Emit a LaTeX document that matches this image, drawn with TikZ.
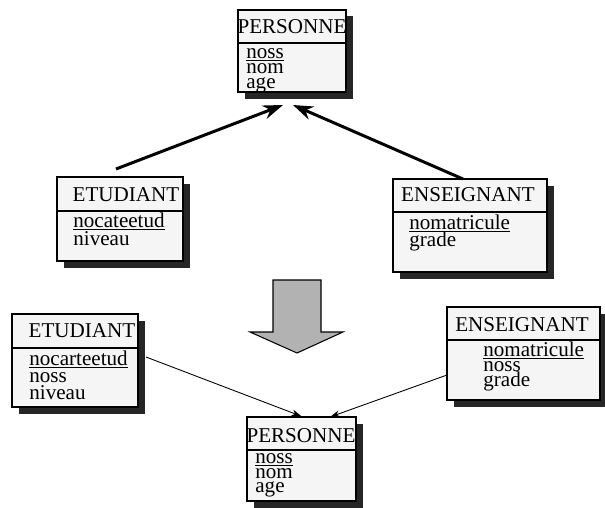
\documentclass[tikz,border=0pt]{standalone}
\usepackage{fontspec}
\setmainfont{Liberation Serif}
\usetikzlibrary{arrows.meta,shadows,fit}
\lineskiplimit=-20pt
% key attribute, underlined close to the baseline
\newcommand{\keyattr}[1]{\setbox0\hbox{#1}\rlap{\rule[-1.2pt]{\wd0}{0.5pt}}\box0}

\tikzset{
    classbox/.style={draw, line width=0.8pt, fill=black!4, inner sep=0pt,
        drop shadow={shadow xshift=0.14cm, shadow yshift=-0.13cm, fill=black!85, opacity=1}},
    classname/.style={inner sep=0pt, font=\fontsize{12}{9}\selectfont},
    attrlist/.style={inner sep=0pt, anchor=north west, align=left, font=\fontsize{12}{#1}\selectfont},
    attrlist/.default=9.5pt,
    bigarrow/.style={line width=1.7pt, -{Stealth[length=0.4cm,width=0.28cm]}},
    thinarrow/.style={line width=0.5pt, -{Stealth[length=0.2cm,width=0.13cm]}},
}

\begin{document}
\begin{tikzpicture}[x=0.02cm, y=-0.02cm]
    \useasboundingbox (0,0) rectangle (605,507);

    % PERSONNE, top
    \node[classbox, fit={(238,10) (346,92)}] (p1) {};
    \draw[line width=0.8pt] (p1.west |- 0,43) -- (p1.east |- 0,43);
    \node[classname] (p1name) at (292,27) {PERSONNE};
    \node[attrlist=8.4pt] (p1attr) at (246,48.5) {\keyattr{noss}\\nom\\age};

    % ETUDIANT, top left
    \node[classbox, fit={(57,177) (183,261)}] (e1) {};
    \draw[line width=0.8pt] (e1.west |- 0,211) -- (e1.east |- 0,211);
    \node[classname] (e1name) at (126,195) {ETUDIANT};
    \node[attrlist=10pt] (e1attr) at (73,213) {\keyattr{nocateetud}\\niveau};

    % ENSEIGNANT, top right
    \node[classbox, fit={(393,179) (547,272)}] (s1) {};
    \draw[line width=0.8pt] (s1.west |- 0,212) -- (s1.east |- 0,212);
    \node[classname] (s1name) at (468,195) {ENSEIGNANT};
    \node[attrlist=9.2pt] (s1attr) at (409,215) {\keyattr{nomatricule}\\grade};

    % generalisation arrows
    \coordinate (e1out) at (116,169);
    \coordinate (p1in1) at (283,105);
    \coordinate (s1out) at (463,179);
    \coordinate (p1in2) at (293,105);
    \draw[bigarrow] (e1out) -- (p1in1);
    \draw[bigarrow] (s1out) -- (p1in2);

    % big arrow in the middle
    \draw[fill=black!30, line width=0.6pt] (273,280) -- (321,280) -- (321,332) -- (343,332)
        -- (297,353) -- (250,332) -- (273,332) -- cycle;

    % ETUDIANT, bottom left
    \node[classbox, fit={(12,314) (138,407)}] (e2) {};
    \draw[line width=0.8pt] (e2.west |- 0,348) -- (e2.east |- 0,348);
    \node[classname] (e2name) at (82,331) {ETUDIANT};
    \node[attrlist=9.6pt] (e2attr) at (29,351) {\keyattr{nocarteetud}\\noss\\niveau};

    % ENSEIGNANT, bottom right
    \node[classbox, fit={(447,307) (600,400)}] (s2) {};
    \draw[line width=0.8pt] (s2.west |- 0,340) -- (s2.east |- 0,340);
    \node[classname] (s2name) at (522,325) {ENSEIGNANT};
    \node[attrlist=8.4pt] (s2attr) at (483,342) {\keyattr{nomatricule}\\noss\\grade};

    % PERSONNE, bottom
    \node[classbox, fit={(247,417) (356,501)}] (p2) {};
    \draw[line width=0.8pt] (p2.west |- 0,450) -- (p2.east |- 0,450);
    \node[classname] (p2name) at (301,436) {PERSONNE};
    \node[attrlist=8.4pt] (p2attr) at (255,453) {\keyattr{noss}\\nom\\age};

    % references to PERSONNE
    \coordinate (e2out) at (146,357);
    \coordinate (s2out) at (447,375);
    \coordinate (p2in) at (330,417);
    \draw[thinarrow] (e2out) -- (p2.north);
    \draw[thinarrow] (s2out) -- (p2in);
\end{tikzpicture}
\end{document}
